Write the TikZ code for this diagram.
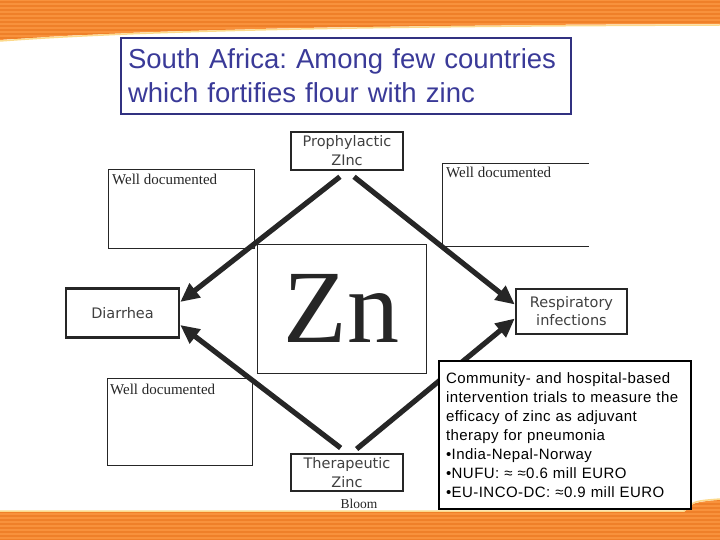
\documentclass[tikz,border=0pt]{standalone}
\usepackage{fontspec}
\usepackage{xcolor}
\usepackage{tikz}
\usetikzlibrary{arrows.meta}
\newfontfamily\arialfont{Liberation Sans}
\newfontfamily\boxfont[LetterSpace=3]{Liberation Sans}
\newfontfamily\verdanafont{DejaVu Sans}
\newfontfamily\timesfont{Liberation Serif}
\definecolor{slideorange}{HTML}{F8923C}
\definecolor{stripeorange}{HTML}{EF8029}
\definecolor{edgeyellow}{HTML}{FCD98A}
\definecolor{titleblue}{HTML}{3A3A98}
\definecolor{inkgrey}{HTML}{262626}
\frenchspacing

\begin{document}
\begin{tikzpicture}[x=1pt, y=-1pt]
		\tikzstyle{labelbox}=[draw=inkgrey, line width=2.4pt, fill=white, inner sep=0pt, align=center, text=black!75, font={\verdanafont\fontsize{14.5}{19}\selectfont}]
		\tikzstyle{docbox}=[draw=inkgrey, line width=0.8pt, fill=white, inner sep=0pt]
		\tikzstyle{doctext}=[anchor=base west, inner sep=0pt, text=black!85, font={\timesfont\fontsize{15}{18}\selectfont}]
		\tikzstyle{zincarrow}=[-{Triangle[length=19pt,width=17pt]}, line width=5.2pt, draw=inkgrey]
		\useasboundingbox (0,0) rectangle (720,540);
		% orange bands
		\fill[slideorange] (0,0) -- (720,0) -- (720,24) .. controls (420,25) and (160,28) .. (0,40) -- cycle;
		\begin{scope}
			\clip (0,0) -- (720,0) -- (720,24) .. controls (420,25) and (160,28) .. (0,40) -- cycle;
			\foreach \y in {2,6,...,42} \draw[stripeorange, line width=1.3pt] (0,\y) -- (720,\y);
		\end{scope}
		\draw[edgeyellow, line width=1.5pt] (720,25) .. controls (420,26) and (160,29) .. (0,41);
		\fill[slideorange] (0,512) -- (684,512) .. controls (694,502) .. (720,500) -- (720,540) -- (0,540) -- cycle;
		\begin{scope}
			\clip (0,512) -- (684,512) .. controls (694,502) .. (720,500) -- (720,540) -- (0,540) -- cycle;
			\foreach \y in {500,504,...,540} \draw[stripeorange, line width=1.3pt] (0,\y) -- (720,\y);
		\end{scope}
		\draw[edgeyellow, line width=1.5pt] (0,511) -- (684,511) .. controls (694,501) .. (720,499);
		% title
		\node[draw=titleblue!85!black, line width=2pt, anchor=north west, minimum width=450pt, minimum height=76pt, text width=436pt, inner xsep=7pt, align=left, text=titleblue, font={\arialfont\fontsize{27.5}{34}\selectfont}] (title) at (120,37) {South Africa: Among few countries\\which fortifies flour with zinc};
		% evidence boxes
		\node[docbox, anchor=north west, minimum width=146pt, minimum height=79pt] (wdtl) at (108,169) {};
		\node[doctext] (wdtltext) at (112,185) {Well documented};
		\node[docbox, draw=none, anchor=north west, minimum width=146pt, minimum height=83pt] (wdtr) at (442,163) {};
		\draw[inkgrey, line width=0.8pt] (wdtr.north east) -- (wdtr.north west) -- (wdtr.south west) -- (wdtr.south east);
		\node[doctext] (wdtrtext) at (446,178) {Well documented};
		\node[docbox, anchor=north west, minimum width=145pt, minimum height=87pt] (wdbl) at (107,378) {};
		\node[doctext] (wdbltext) at (110,394) {Well documented};
		% centre
		\node[docbox, minimum width=169pt, minimum height=129pt, text=black!85, font={\timesfont\fontsize{104}{110}\selectfont}] (zn) at (341.5,308.5) {Zn};
		% sources and targets
		\node[labelbox, minimum width=112pt, minimum height=38pt] (proph) at (347,151) {Prophylactic\\ZInc};
		\node[labelbox, minimum width=112pt, minimum height=37pt] (thera) at (347,472.5) {Therapeutic\\Zinc};
		\node[labelbox, minimum width=113pt, minimum height=49pt] (diarr) at (122.5,313) {Diarrhea};
		\node[labelbox, minimum width=111pt, minimum height=45pt, font={\verdanafont\fontsize{14.5}{18}\selectfont}] (resp) at (571.5,311.5) {Respiratory\\infections};
		\node[anchor=base, inner sep=0pt, text=black!85, font={\timesfont\fontsize{13.5}{16}\selectfont}] (bloom) at (359,508) {Bloom};
		\draw[zincarrow, shorten <=9pt] (proph.south) -- ([yshift=11pt]diarr.east);
		\draw[zincarrow, shorten <=9pt] (proph.south) -- ([yshift=7pt]resp.west);
		\draw[zincarrow, shorten <=8pt] (thera.north) -- ([yshift=-12pt]diarr.east);
		\draw[zincarrow, shorten <=6pt] ([xshift=5pt]thera.north) -- ([yshift=-7pt]resp.west);
		% trials box
		\node[draw=black, line width=2pt, fill=white, anchor=north west, minimum width=252pt, minimum height=148pt, text width=238pt, inner xsep=7pt, align=left, font={\boxfont\fontsize{15}{19}\selectfont}] (trials) at (438,360) {Community- and hospital-based\\intervention trials to measure the\\efficacy of zinc as adjuvant\\therapy for pneumonia\\•India-Nepal-Norway\\•NUFU: ≈ ≈0.6 mill EURO\\•EU-INCO-DC: ≈0.9 mill EURO};
	\end{tikzpicture}
\end{document}
